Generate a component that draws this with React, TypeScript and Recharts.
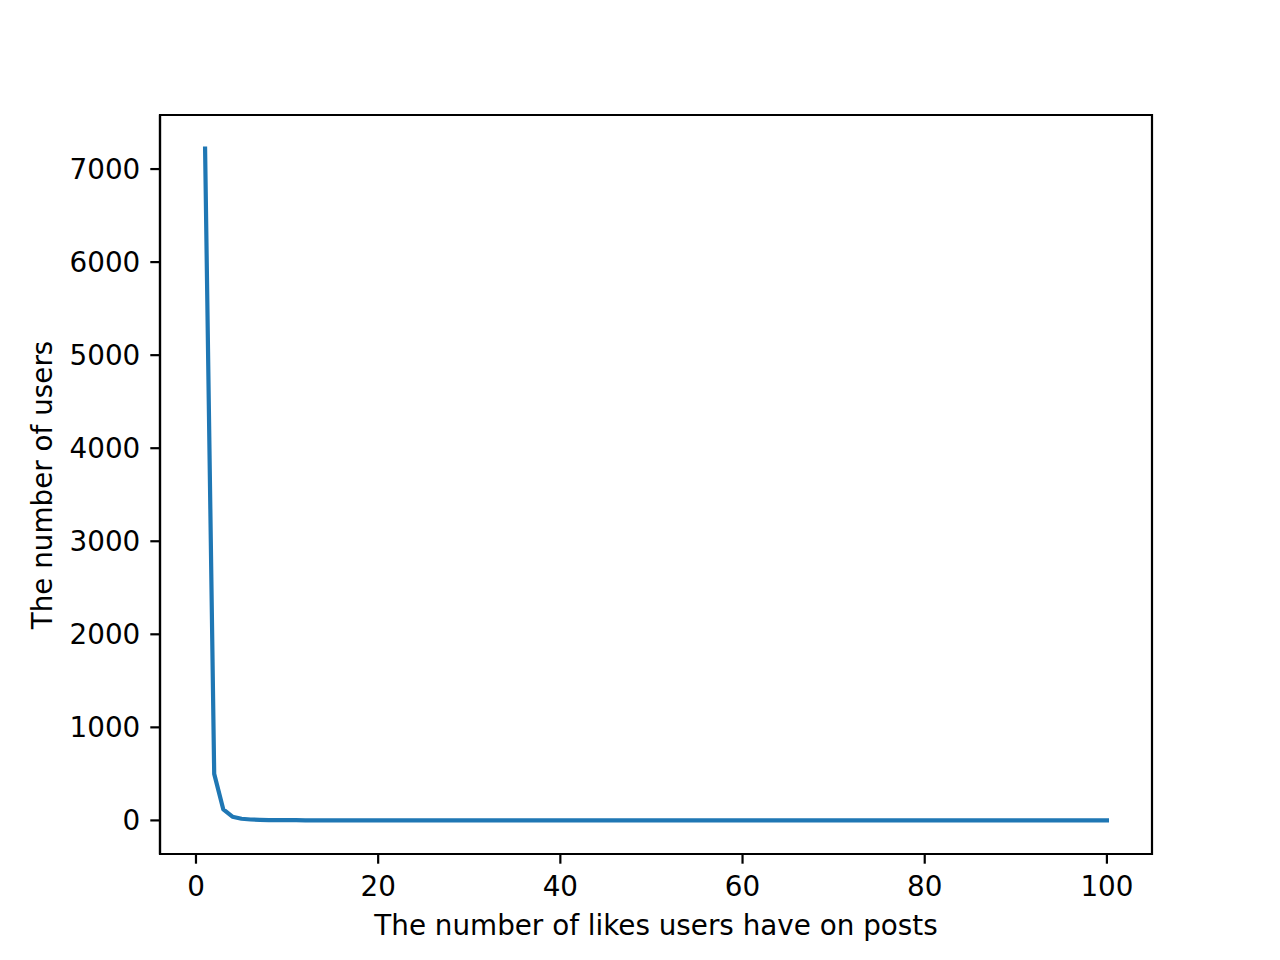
import { LineChart, Line, XAxis, YAxis, ReferenceArea } from 'recharts'

// x: number of likes (1..100), y: number of users with that many likes
const likes: number[] = Array.from({ length: 100 }, (_, i) => i + 1)
const users: number[] = [
  7220, 500, 118, 40, 18, 10, 6, 4, 3, 2,
  2, 1, 1, 1, 1, 1, 1, 0, 0, 0,
  0, 0, 0, 0, 0, 0, 0, 0, 0, 0,
  0, 0, 0, 0, 0, 0, 0, 0, 0, 0,
  0, 0, 0, 0, 0, 0, 0, 0, 0, 0,
  0, 0, 0, 0, 0, 0, 0, 0, 0, 0,
  0, 0, 0, 0, 0, 0, 0, 0, 0, 0,
  0, 0, 0, 0, 0, 0, 0, 0, 0, 0,
  0, 0, 0, 0, 0, 0, 0, 0, 0, 0,
  0, 0, 0, 0, 0, 0, 0, 0, 0, 0,
]
const xTicks = [0, 20, 40, 60, 80, 100]
const yTicks = [0, 1000, 2000, 3000, 4000, 5000, 6000, 7000]
const X_DOMAIN: [number, number] = [-3.95, 104.95]
const Y_DOMAIN: [number, number] = [-361, 7581]

const data = likes.map((x, i) => ({ x, y: users[i] }))

const FONT = 'DejaVu Sans, sans-serif'
const tickStyle = { fontSize: 27.8, fill: '#000', fontFamily: FONT }

export default function App() {
  return (
    <div style={{ position: 'fixed', left: 0, top: 0, width: 1280, height: 960, background: '#fff' }}>
      <LineChart width={1280} height={960} data={data}
        margin={{ top: 115, right: 128, bottom: 56, left: 80 }}
        style={{ fontFamily: FONT }}>
        <XAxis dataKey="x" type="number" domain={X_DOMAIN} ticks={xTicks} allowDataOverflow
          height={50} stroke="#000" strokeWidth={2.2} tickSize={9.7} tickMargin={13} tick={tickStyle}
          label={{ content: () => (
            <text x={656} y={935} textAnchor="middle" fontSize={27.8} fontFamily={FONT} fill="#000">
              The number of likes users have on posts
            </text>
          ) }} />
        <YAxis type="number" domain={Y_DOMAIN} ticks={yTicks} allowDataOverflow
          width={80} stroke="#000" strokeWidth={2.2} tickSize={9.7} tickMargin={10} tick={tickStyle}
          label={{ content: () => (
            <text x={52} y={485} textAnchor="middle" fontSize={27.8} fontFamily={FONT} fill="#000"
              transform="rotate(-90 52 485)">
              The number of users
            </text>
          ) }} />
        <ReferenceArea x1={X_DOMAIN[0]} x2={X_DOMAIN[1]} y1={Y_DOMAIN[0]} y2={Y_DOMAIN[1]}
          fill="none" stroke="#000" strokeWidth={2.2} ifOverflow="visible" />
        <Line dataKey="y" type="linear" stroke="#1f77b4" strokeWidth={4.2} dot={false}
          strokeLinecap="square" strokeLinejoin="round" isAnimationActive={false} />
      </LineChart>
    </div>
  )
}
